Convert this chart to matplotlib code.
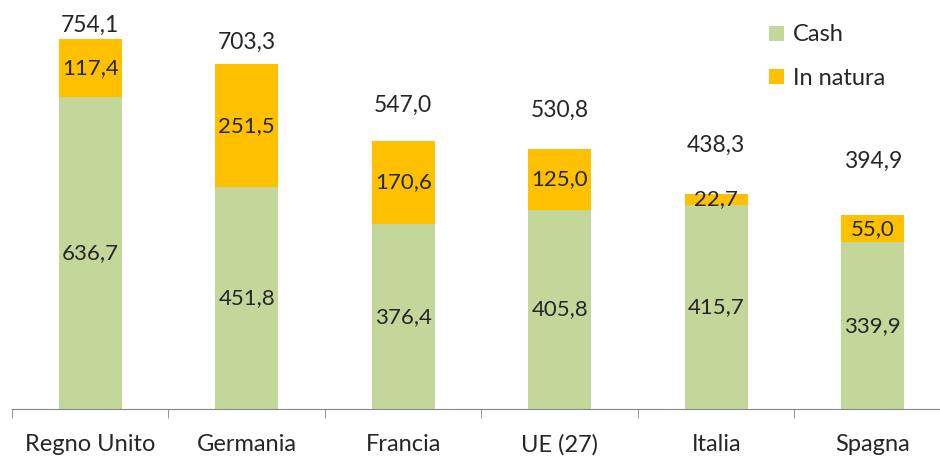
import numpy as np
import matplotlib.pyplot as plt

# dati
paesi = ['Regno Unito', 'Germania', 'Francia', 'UE (27)', 'Italia', 'Spagna']
cash = [636.7, 451.8, 376.4, 405.8, 415.7, 339.9]
natura = [117.4, 251.5, 170.6, 125.0, 22.7, 55.0]
totale = [754.1, 703.3, 547.0, 530.8, 438.3, 394.9]
# altezza delle etichette del totale (spostate a mano nel grafico originale)
pos_totale = [783, 748, 620, 610, 538, 504]

verde = '#C4D79B'
giallo = '#FFC000'
testo = '#262626'

plt.rcParams['font.family'] = ['Lato', 'DejaVu Sans']

fig = plt.figure(figsize=(9.4, 4.58), dpi=100)
ax = fig.add_axes([12/940., 49/458., 939/940., 409/458.])

x = np.arange(len(paesi))
b1 = ax.bar(x, cash, width=0.4, color=verde, label='Cash')
b2 = ax.bar(x, natura, width=0.4, bottom=cash, color=giallo, label='In natura')

for i in range(len(paesi)):
    ax.text(x[i], cash[i]/2., ('%.1f' % cash[i]).replace('.', ','),
            ha='center', va='center', fontsize=16, color=testo)
    ax.text(x[i], cash[i] + natura[i]/2., ('%.1f' % natura[i]).replace('.', ','),
            ha='center', va='center', fontsize=16, color=testo)
    ax.text(x[i], pos_totale[i], ('%.1f' % totale[i]).replace('.', ','),
            ha='center', va='center', fontsize=16.5, color=testo)

ax.set_xlim(-0.5, len(paesi) - 0.5)
ax.set_ylim(0, 834)

for s in ['top', 'left', 'right']:
    ax.spines[s].set_visible(False)
ax.spines['bottom'].set_color('#868686')
ax.set_yticks([])
ax.set_xticks(x)
ax.set_xticklabels(paesi, fontsize=17, color=testo)
ax.tick_params(axis='x', which='major', length=0, pad=18)
ax.set_xticks(np.arange(-0.5, len(paesi)), minor=True)
ax.tick_params(axis='x', which='minor', length=6.5, color='#868686')

leg = ax.legend(loc='upper left', bbox_to_anchor=(760/940., 1 - 15/458.),
                bbox_transform=fig.transFigure, frameon=False, fontsize=17,
                handlelength=0.6, handleheight=0.6, handletextpad=0.4,
                labelspacing=0.95, borderaxespad=0)
for t in leg.get_texts():
    t.set_color(testo)

fig.savefig('out.png', dpi=100)
